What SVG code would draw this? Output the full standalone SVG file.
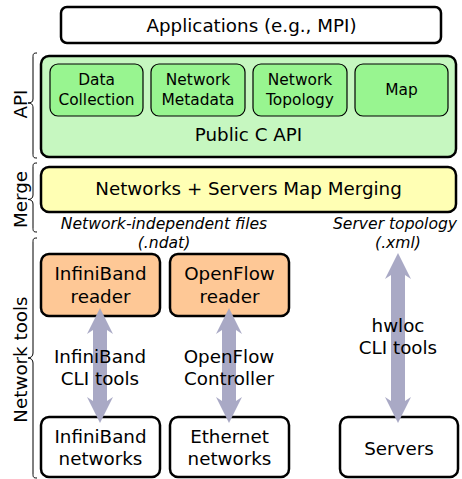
<svg xmlns="http://www.w3.org/2000/svg" width="462" height="479" viewBox="0 0 462 479">
<style>
text{font-family:"DejaVu Sans","Liberation Sans",sans-serif;fill:#000;text-anchor:middle}
.big{font-size:18.3px}
.sm{font-size:15.4px}
.it{font-size:15.6px;font-style:italic}
.box{stroke:#000;stroke-width:2.5}
.sub{stroke:#000;stroke-width:1.2;fill:#98f590}
.brace{fill:none;stroke:#000;stroke-width:1}
.arrow{fill:#a9a9c5}
</style>
<rect width="462" height="479" fill="#fff"/>
<g id="braces">
<path class="brace" d="M37,53 C33,53 33,54 33,58 L33,99 C33,102 31,103 28,103 C31,103 33,104 33,108 L33,153 C33,157 33,158 37,158"/>
<path class="brace" d="M37,163 C33,163 33,164 33,168 L33,195 C33,198 31,199.5 28,199.5 C31,199.5 33,201 33,204 L33,227 C33,231 33,232 37,232"/>
<path class="brace" d="M37,238 C33,238 33,239 33,243 L33,353 C33,356 31,358 28,358 C31,358 33,360 33,363 L33,473 C33,477 33,478 37,478"/>
<text class="big" transform="translate(27,104) rotate(-90)">API</text>
<text class="big" transform="translate(27,199.5) rotate(-90)">Merge</text>
<text class="big" transform="translate(27,359.5) rotate(-90)">Network tools</text>
</g>
<g id="applications">
<rect class="box" x="61" y="7" width="380" height="36" rx="6" fill="#fff"/>
<text class="big" x="251.5" y="31.5">Applications (e.g., MPI)</text>
</g>
<g id="api">
<rect class="box" x="41" y="56" width="415" height="101" rx="8" fill="#c6f7c0"/>
<text class="big" x="248.5" y="141">Public C API</text>
</g>
<g id="data-collection">
<rect class="sub" x="50" y="64" width="93" height="52" rx="8"/>
<text class="sm" x="96.5" y="85">Data</text>
<text class="sm" x="96.5" y="105">Collection</text>
</g>
<g id="network-metadata">
<rect class="sub" x="151" y="64" width="94" height="52" rx="8"/>
<text class="sm" x="198" y="85">Network</text>
<text class="sm" x="198" y="105">Metadata</text>
</g>
<g id="network-topology">
<rect class="sub" x="253" y="64" width="94" height="52" rx="8"/>
<text class="sm" x="300" y="85">Network</text>
<text class="sm" x="300" y="105">Topology</text>
</g>
<g id="map">
<rect class="sub" x="355" y="64" width="93" height="52" rx="8"/>
<text class="sm" x="401.5" y="95">Map</text>
</g>
<g id="merge">
<rect class="box" x="41" y="167" width="415" height="45" rx="8" fill="#ffffb4"/>
<text class="big" x="248.5" y="195">Networks + Servers Map Merging</text>
</g>
<g id="file-labels">
<text class="it" x="164" y="229">Network-independent files</text>
<text class="it" x="164" y="248">(.ndat)</text>
<text class="it" x="395" y="229">Server topology</text>
<text class="it" x="398" y="248">(.xml)</text>
</g>
<g id="infiniband-reader">
<rect class="box" x="41" y="254" width="119" height="62" rx="8" fill="#fec896"/>
<text class="big" x="100.5" y="280">InfiniBand</text>
<text class="big" x="100.5" y="303">reader</text>
</g>
<g id="openflow-reader">
<rect class="box" x="170" y="254" width="119" height="62" rx="8" fill="#fec896"/>
<text class="big" x="229.5" y="280">OpenFlow</text>
<text class="big" x="229.5" y="303">reader</text>
</g>
<g id="infiniband-networks">
<rect class="box" x="41" y="417" width="119" height="60" rx="8" fill="#fff"/>
<text class="big" x="100.5" y="443">InfiniBand</text>
<text class="big" x="100.5" y="465">networks</text>
</g>
<g id="ethernet-networks">
<rect class="box" x="170" y="417" width="119" height="60" rx="8" fill="#fff"/>
<text class="big" x="229.5" y="443">Ethernet</text>
<text class="big" x="229.5" y="465">networks</text>
</g>
<g id="servers">
<rect class="box" x="340" y="417" width="118" height="60" rx="8" fill="#fff"/>
<text class="big" x="399" y="455">Servers</text>
</g>
<g id="connectors">
<path class="arrow" d="M100,308 L113,334 L107,330 L107,401 L113,397 L100,423 L87,397 L93,401 L93,330 L87,334 Z"/>
<path class="arrow" d="M229,308 L242,334 L236,330 L236,401 L242,397 L229,423 L216,397 L222,401 L222,330 L216,334 Z"/>
<path class="arrow" d="M398,253 L411,279 L405,275 L405,401 L411,397 L398,423 L385,397 L391,401 L391,275 L385,279 Z"/>
</g>
<g id="connector-labels">
<text class="big" x="100" y="363">InfiniBand</text>
<text class="big" x="100" y="385">CLI tools</text>
<text class="big" x="229" y="363">OpenFlow</text>
<text class="big" x="229" y="385">Controller</text>
<text class="big" x="398" y="332">hwloc</text>
<text class="big" x="398" y="354">CLI tools</text>
</g>
</svg>
